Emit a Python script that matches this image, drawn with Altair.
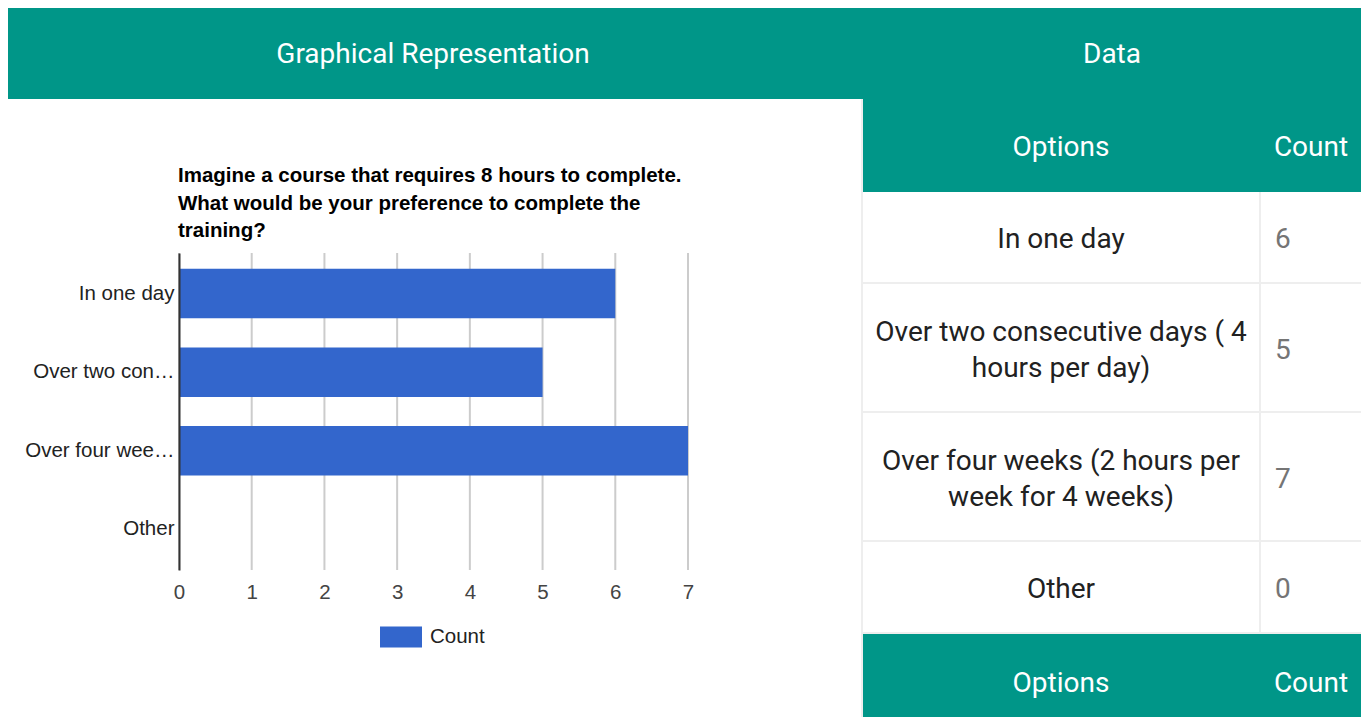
import textwrap
import altair as alt
import pandas as pd

# ---------------- data ----------------
options = [
    "In one day",
    "Over two consecutive days ( 4 hours per day)",
    "Over four weeks (2 hours per week for 4 weeks)",
    "Other",
]
counts = [6, 5, 7, 0]
axis_labels = ["In one day", "Over two con…", "Over four wee…", "Other"]
ticks = [0, 1, 2, 3, 4, 5, 6, 7]
title_lines = [
    "Imagine a course that requires 8 hours to complete.",
    "What would be your preference to complete the",
    "training?",
]
panel_titles = ["Graphical Representation", "Data"]
table_columns = ["Options", "Count"]
series_name = "Count"

# ---------------- layout / style ----------------
W, H = 1353, 709
TEAL = "#009688"
BORDER = "#eeeeee"
BAR = "#3366cc"
ARIAL = "Arial, Liberation Sans, sans-serif"
ROBOTO = "Roboto, sans-serif"
RFS = 28          # Roboto font size
LH = 36           # table line height

TABLE_X0, TABLE_X1, COL_X = 855, 1354, 1252
HEAD_BAND_Y1 = 91
TABLE_HEAD_Y1 = 184
OPT_CX, CNT_CX, CNT_X = 1053, 1303, 1267

PLOT_X0, PLOT_X1 = 171, 680
PLOT_Y0, PLOT_Y1 = 245, 562

bar_df = pd.DataFrame({
    "label": axis_labels,
    "count": counts,
    "series": [series_name] * len(counts),
})
tick_df = pd.DataFrame({"tick": ticks})

wrapped = [textwrap.wrap(o, 29) for o in options]
heights = [55 + 37 * len(w) for w in wrapped]
tops, y = [], TABLE_HEAD_Y1
for h in heights:
    tops.append(y)
    y += h
bottoms = [t + h for t, h in zip(tops, heights)]
mids = [t + h / 2 + 2 for t, h in zip(tops, heights)]
table_df = pd.DataFrame({
    "text": ["\n".join(w) for w in wrapped],
    "cnt": [str(c) for c in counts],
    "mid": mids,
    "text_y": [m - (len(w) - 1) * LH / 2 for m, w in zip(mids, wrapped)],
    "sep": [b - 1 for b in bottoms],
})
FOOT_Y0 = bottoms[-1]

one = pd.DataFrame({"k": [0]})
yid = alt.Scale(domain=[0, H], range=[0, H], nice=False, zero=False)
xscale = alt.Scale(domain=[0, 7], range=[PLOT_X0, PLOT_X1], nice=False, zero=True)


def rect(x, x2, y, y2, color):
    return alt.Chart(one).mark_rect(color=color).encode(
        x=alt.value(x), x2=alt.value(x2), y=alt.value(y), y2=alt.value(y2)
    )


def label(txt, x, y, size, color, font, weight="normal", align="center"):
    return alt.Chart(one).mark_text(
        text=txt, font=font, fontSize=size, color=color, fontWeight=weight,
        align=align, baseline="middle",
    ).encode(x=alt.value(x), y=alt.value(y))


# decorations
band_left = rect(0, W, 0, HEAD_BAND_Y1, TEAL)
band_right = rect(TABLE_X0, W, 0, TABLE_HEAD_Y1, TEAL)
footer = rect(TABLE_X0, W, FOOT_Y0, H, TEAL)
panel_border = alt.Chart(one).mark_rule(color=BORDER, strokeWidth=2).encode(
    x=alt.value(854), y=alt.value(HEAD_BAND_Y1), y2=alt.value(H)
)
col_divider = alt.Chart(one).mark_rule(color=BORDER, strokeWidth=2).encode(
    x=alt.value(COL_X), y=alt.value(TABLE_HEAD_Y1), y2=alt.value(FOOT_Y0)
)
row_seps = alt.Chart(table_df).mark_rule(color=BORDER, strokeWidth=2).encode(
    y=alt.Y("sep:Q", scale=yid, axis=None),
    x=alt.value(TABLE_X0), x2=alt.value(TABLE_X1),
)

# header texts
t_graph = label(panel_titles[0], 425, 47, RFS, "white", ROBOTO)
t_data = label(panel_titles[1], 1104, 47, RFS, "white", ROBOTO)
t_opt_h = label(table_columns[0], OPT_CX, 140, RFS, "white", ROBOTO)
t_cnt_h = label(table_columns[1], CNT_CX, 140, RFS, "white", ROBOTO)
t_opt_f = label(table_columns[0], OPT_CX, FOOT_Y0 + 50, RFS, "white", ROBOTO)
t_cnt_f = label(table_columns[1], CNT_CX, FOOT_Y0 + 50, RFS, "white", ROBOTO)

# table cells
opt_text = alt.Chart(table_df).mark_text(
    font=ROBOTO, fontSize=RFS, color="#212121", align="center", baseline="middle",
    lineBreak="\n", lineHeight=LH,
).encode(
    y=alt.Y("text_y:Q", scale=yid, axis=None), x=alt.value(OPT_CX), text="text:N"
)
cnt_text = alt.Chart(table_df).mark_text(
    font=ROBOTO, fontSize=RFS, color="#757575", align="left", baseline="middle",
).encode(
    y=alt.Y("mid:Q", scale=yid, axis=None), x=alt.value(CNT_X), text="cnt:N"
)

# chart title (first line centre given; following lines flow down)
chart_title = alt.Chart(one).mark_text(
    text="\n".join(title_lines), lineBreak="\n", lineHeight=27.5,
    font=ARIAL, fontSize=20.5, fontWeight="bold", color="#000000",
    align="left", baseline="middle",
).encode(x=alt.value(170), y=alt.value(168))

# gridlines + bars
grid = alt.Chart(tick_df).mark_rule(color="#cccccc", strokeWidth=2).encode(
    x=alt.X("tick:Q", scale=xscale, title=None),
    y=alt.value(PLOT_Y0), y2=alt.value(PLOT_Y1),
)
bars = alt.Chart(bar_df).mark_bar().encode(
    x=alt.X(
        "count:Q", scale=xscale, title=None,
        axis=alt.Axis(
            orient="bottom", offset=PLOT_Y1 - H, values=ticks, grid=False,
            domain=False, ticks=False, tickSize=0, labelPadding=12,
            labelFlush=False,
            labelFont=ARIAL, labelFontSize=20.5, labelColor="#444444",
            format="d",
        ),
    ),
    y=alt.Y(
        "label:N", sort=axis_labels, title=None,
        scale=alt.Scale(range=[PLOT_Y0, PLOT_Y1], paddingInner=0.37, paddingOuter=0.2),
        axis=alt.Axis(
            orient="left", offset=-PLOT_X0, domain=True, domainColor="#333333",
            domainWidth=2, ticks=False, tickSize=0, labelPadding=5, grid=False,
            labelFont=ARIAL, labelFontSize=20.5, labelColor="#222222",
            labelLimit=400, zindex=1,
        ),
    ),
    color=alt.Color(
        "series:N", scale=alt.Scale(range=[BAR]),
        legend=alt.Legend(
            title=None, orient="none", legendX=372, legendY=608, padding=0,
            symbolType="M-1,-0.5H1V0.5H-1Z", symbolSize=1764,
            symbolStrokeWidth=0, symbolOpacity=1,
            labelFont=ARIAL, labelFontSize=20.5, labelColor="#222222",
            labelOffset=8,
        ),
    ),
)

chart = alt.layer(
    band_left, band_right, footer, panel_border, col_divider, row_seps,
    grid, bars, chart_title,
    t_graph, t_data, t_opt_h, t_cnt_h, t_opt_f, t_cnt_f,
    opt_text, cnt_text,
).resolve_scale(y="independent").properties(
    width=W, height=H, padding=0,
    autosize=alt.AutoSizeParams(type="none"),
    background="white",
).configure_view(stroke=None)

chart.save("out.html", embed_options={"renderer": "svg", "actions": False})
